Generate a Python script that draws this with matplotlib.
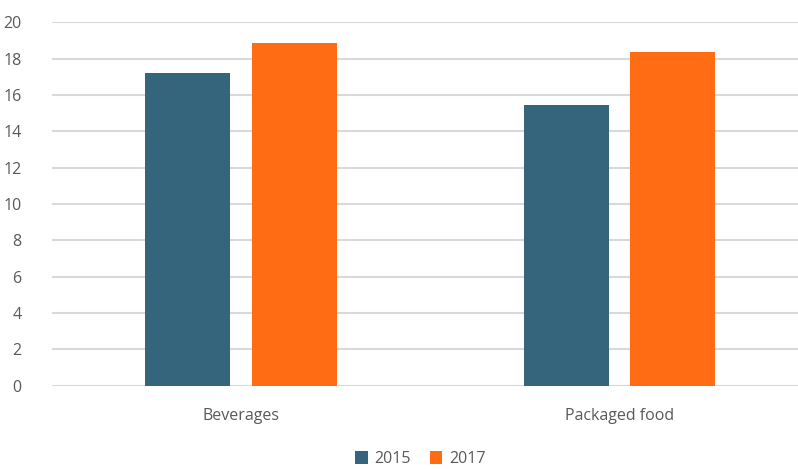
import matplotlib.pyplot as plt
import numpy as np

categories = ["Beverages", "Packaged food"]
series = ["2015", "2017"]
values_2015 = [17.2, 15.45]
values_2017 = [18.85, 18.4]

colors = ["#35657d", "#ff6c14"]
text_color = "#595959"

plt.rcParams["font.family"] = ["Open Sans", "DejaVu Sans"]

fig = plt.figure(figsize=(7.98, 4.69), dpi=100)
ax = fig.add_axes([52 / 798, (469 - 385.5) / 469, (798 - 52) / 798, (385.5 - 22.5) / 469])

x = np.arange(len(categories))
width = 0.2246
offset = 0.1413
ax.bar(x - offset, values_2015, width, color=colors[0], label=series[0], zorder=3)
ax.bar(x + offset, values_2017, width, color=colors[1], label=series[1], zorder=3)

ax.set_xlim(-0.4993, 1.4716)
ax.set_ylim(0, 20)
ax.set_yticks(range(0, 21, 2))
ax.set_xticks(x)
ax.set_xticklabels(categories)
ax.grid(axis="y", color="#d9d9d9", linewidth=1.5, zorder=0)
ax.tick_params(length=0, labelsize=11.5, colors=text_color)
ax.tick_params(axis="y", pad=22)
ax.tick_params(axis="x", pad=16)
for lbl in ax.get_yticklabels():
    lbl.set_horizontalalignment("right")
for s in ax.spines.values():
    s.set_visible(False)

fig.legend(loc="center", bbox_to_anchor=(420 / 798, 1 - 459 / 469), ncol=2, frameon=False,
           fontsize=11.5, labelcolor=text_color, handlelength=0.8, handleheight=0.8,
           handletextpad=0.4, columnspacing=1.2)

fig.savefig("out.png", dpi=100)
